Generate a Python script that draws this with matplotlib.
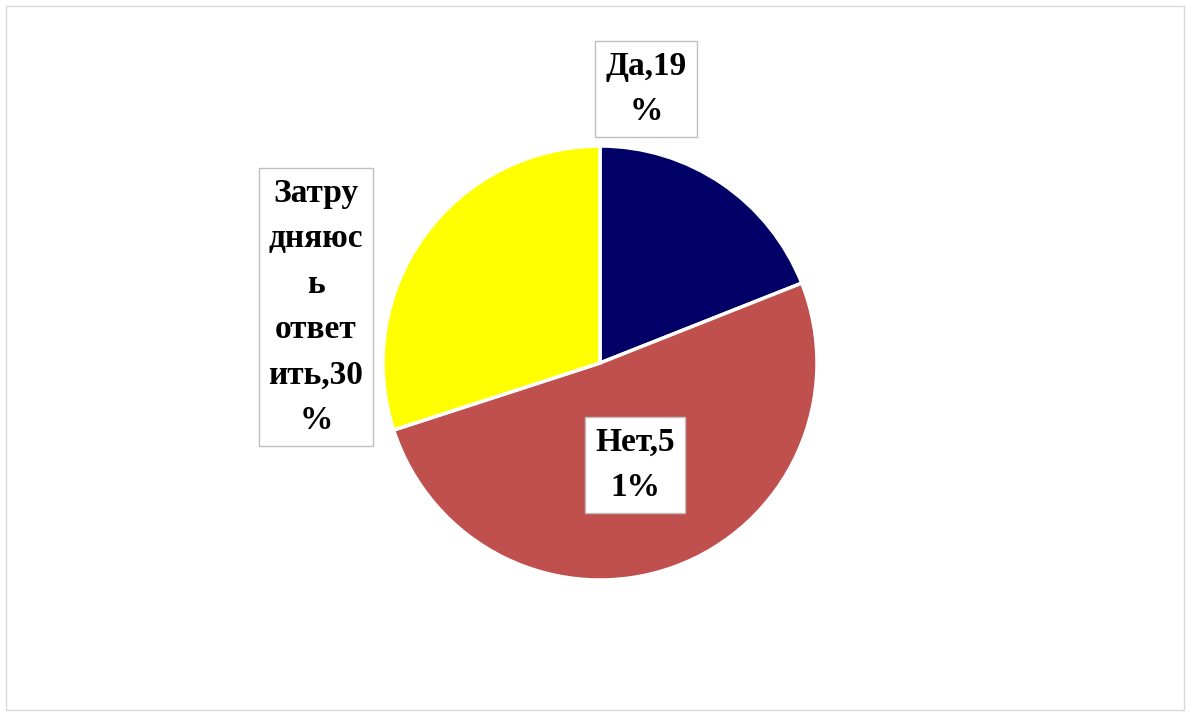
import matplotlib.pyplot as plt
from matplotlib.patches import Rectangle

labels = ["Да,19\n%", "Нет,5\n1%", "Затру\nдняюс\nь\nответ\nить,30\n%"]
values = [19, 51, 30]
colors = ["#000066", "#C0504D", "#FFFF00"]
label_pos = [(0.212, 1.263), (0.161, -0.47), (-1.309, 0.258)]

plt.rcParams['font.family'] = ['Liberation Serif', 'DejaVu Serif']

fig = plt.figure(figsize=(11.93, 7.16), dpi=100)
fig.patches.append(Rectangle((6 / 1193, 6 / 716), 1178 / 1193, 704 / 716,
                             transform=fig.transFigure, fill=False,
                             edgecolor='#D9D9D9', linewidth=1))

ax = fig.add_axes([383 / 1193, (716 - 363 - 217) / 716, 434 / 1193, 434 / 716])
ax.pie(values, colors=colors, startangle=90, counterclock=False, radius=1,
       wedgeprops=dict(edgecolor='white', linewidth=2.5))
ax.set_xlim(-1, 1)
ax.set_ylim(-1, 1)
ax.set_aspect('auto')
ax.axis('off')

for txt, (x, y) in zip(labels, label_pos):
    ax.text(x, y, txt, ha='center', va='center', fontsize=24, fontweight='bold',
            linespacing=1.6, clip_on=False,
            bbox=dict(boxstyle='square,pad=0.3', facecolor='white',
                      edgecolor='#BFBFBF', linewidth=1))

fig.savefig('out.png', dpi=100)
